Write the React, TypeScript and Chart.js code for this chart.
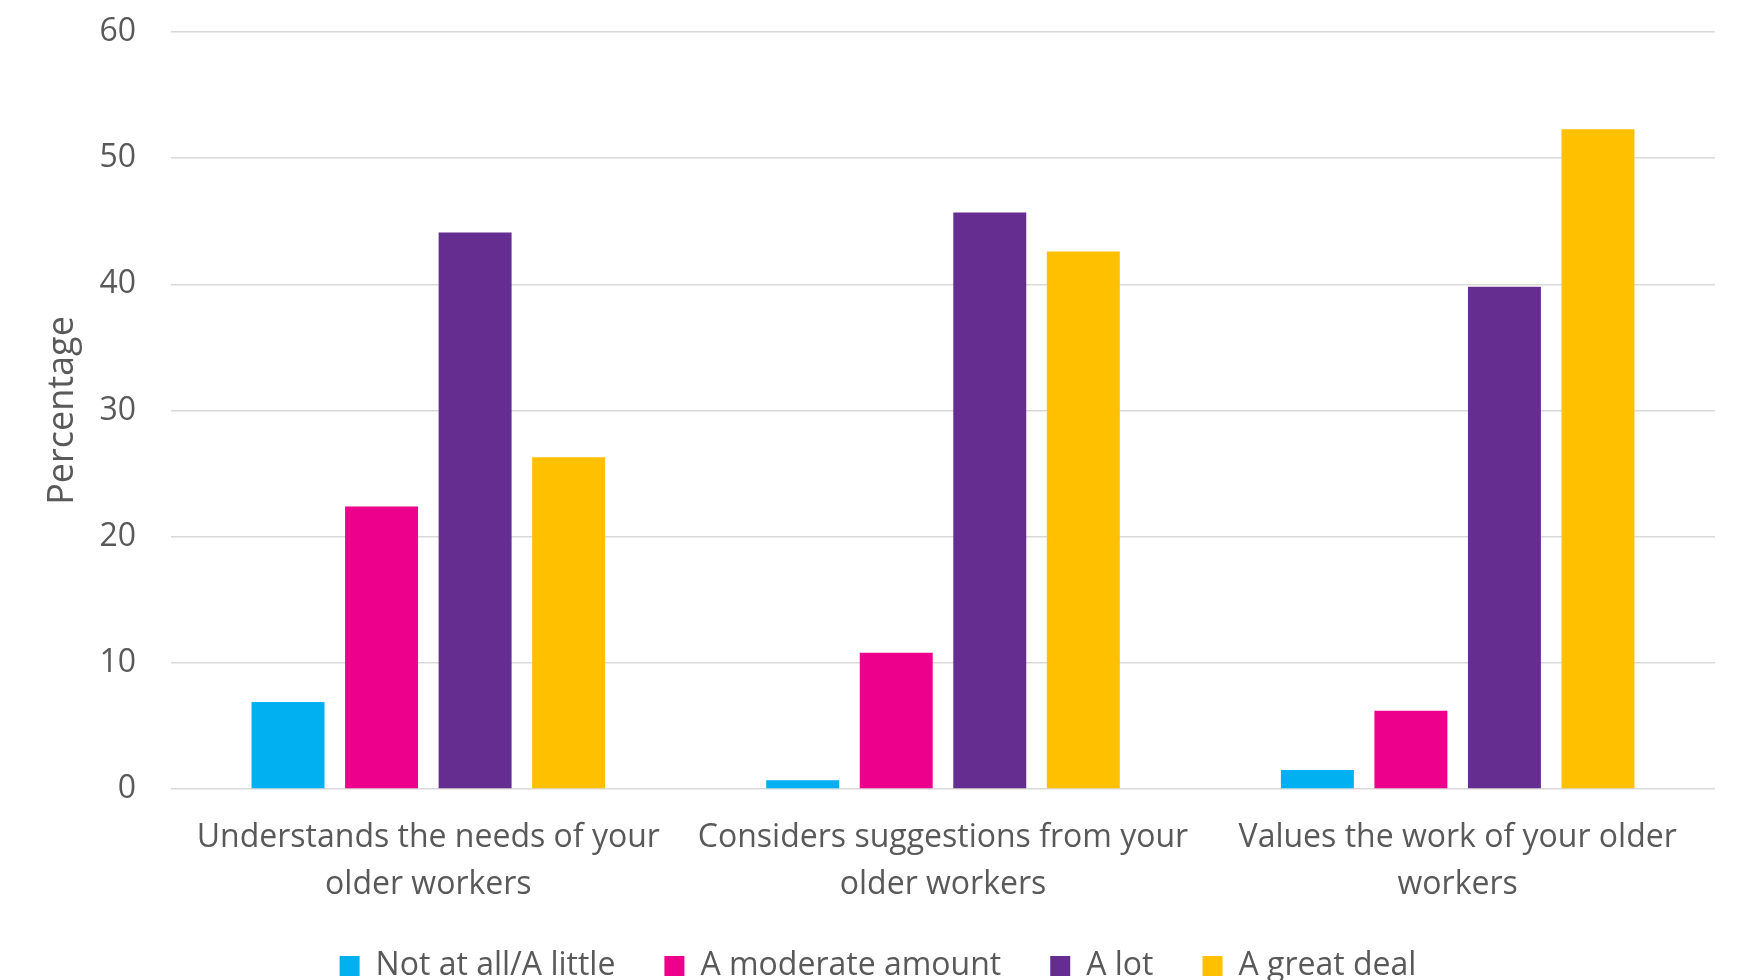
import React, { useEffect, useRef } from "react";
import { Chart, registerables } from "chart.js";

Chart.register(...registerables);

const categories: string[][] = [
  ["Understands the needs of your", "older workers"],
  ["Considers suggestions from your", "older workers"],
  ["Values the work of your older", "workers"],
];
const seriesNames = ["Not at all/A little", "A moderate amount", "A lot", "A great deal"];
const notAtAllALittle = [6.9, 0.7, 1.5];
const aModerateAmount = [22.4, 10.8, 6.2];
const aLot = [44.1, 45.7, 39.8];
const aGreatDeal = [26.3, 42.6, 52.3];
const seriesColors = ["#00B0F0", "#EC008C", "#662D91", "#FFC000"];
const yMin = 0;
const yMax = 60;
const yStep = 10;
const yTitle = "Percentage";

const W = 1737;
const H = 992;
const FONT = "'Open Sans'";
const TEXT = "#595959";

export default function App() {
  const ref = useRef<HTMLCanvasElement | null>(null);
  useEffect(() => {
    if (!ref.current) return;
    const values = [notAtAllALittle, aModerateAmount, aLot, aGreatDeal];
    const chart = new Chart(ref.current, {
      type: "bar",
      data: {
        labels: categories,
        datasets: seriesNames.map((name, i) => ({
          label: name,
          data: values[i],
          backgroundColor: seriesColors[i],
          borderWidth: 0,
          barPercentage: 0.78,
          categoryPercentage: 0.727,
        })),
      },
      options: {
        responsive: false,
        animation: false,
        devicePixelRatio: 1,
        layout: { padding: { left: 41, right: 22, top: 32, bottom: 0 } },
        plugins: {
          tooltip: { enabled: false },
          legend: {
            position: "bottom",
            labels: {
              boxWidth: 20,
              boxHeight: 20,
              padding: 49,
              color: TEXT,
              font: { family: FONT, size: 32 },
            },
          },
        },
        scales: {
          x: {
            grid: { display: false },
            border: { display: false },
            ticks: {
              color: TEXT,
              font: { family: FONT, size: 32, lineHeight: 1.45 },
              padding: 18,
              maxRotation: 0,
              autoSkip: false,
            },
            afterFit: (s: any) => {
              s.height = 112;
            },
          },
          y: {
            min: yMin,
            max: yMax,
            border: { display: false },
            grid: { color: "#D9D9D9", lineWidth: 1.5, drawTicks: false },
            ticks: {
              stepSize: yStep,
              padding: 35,
              color: TEXT,
              font: { family: FONT, size: 32 },
            },
            title: {
              display: true,
              text: yTitle,
              color: TEXT,
              font: { family: FONT, size: 36 },
              padding: { top: 0, bottom: 0 },
            },
            afterFit: (s: any) => {
              s.width = 130;
              s.paddingTop = 0;
            },
          },
        },
      },
    });
    return () => chart.destroy();
  }, []);
  return (
    <div style={{ position: "fixed", left: 0, top: 0, width: W, height: H, background: "#fff" }}>
      <canvas ref={ref} width={W} height={H} style={{ width: W, height: H, display: "block" }} />
    </div>
  );
}
